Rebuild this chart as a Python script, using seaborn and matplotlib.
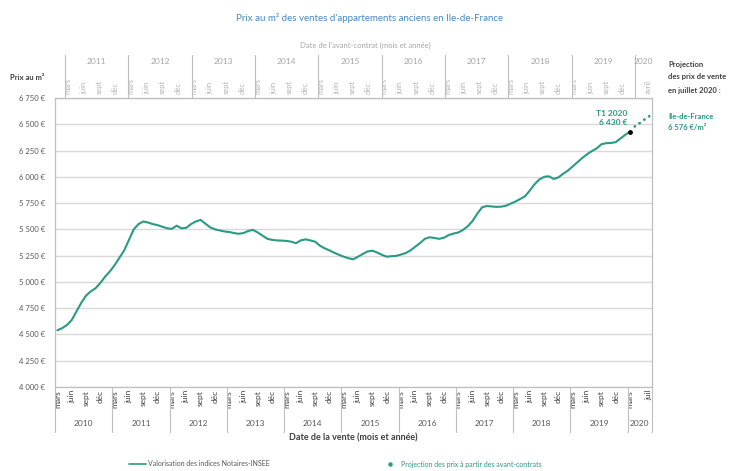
import numpy as np
import pandas as pd
import matplotlib
matplotlib.use("Agg")
import matplotlib.pyplot as plt
import seaborn as sns
from matplotlib.lines import Line2D
from matplotlib.transforms import blended_transform_factory as btf

# ---------------- data ----------------
sale_years = [2010, 2011, 2012, 2013, 2014, 2015, 2016, 2017, 2018, 2019, 2020]
sale_month_labels = ["mars", "juin", "sept", "déc"]
last_year_labels = ["mars", "juil"]
contract_years = [2011, 2012, 2013, 2014, 2015, 2016, 2017, 2018, 2019, 2020]
contract_month_labels = ["mars", "juin", "sept", "déc"]
contract_last_label = ["avril"]

# monthly price per m2, mars 2010 -> mars 2020 (Notaires-INSEE)
prices = [
    4540, 4560, 4590, 4637, 4720, 4800, 4870, 4910, 4940, 4990,   # 2010 mars-déc
    5050, 5100, 5160, 5230, 5300, 5400, 5500, 5550, 5575, 5565,
    5550, 5540, 5525, 5510, 5505, 5535, 5510, 5515, 5550, 5575,
    5590, 5555, 5520, 5500, 5490, 5480, 5475, 5465, 5458, 5465,
    5485, 5495, 5470, 5440, 5410, 5400, 5395, 5393, 5390, 5383,
    5368, 5395, 5405, 5395, 5383, 5345, 5320, 5300, 5278, 5258,
    5240, 5225, 5215, 5240, 5266, 5290, 5297, 5280, 5258, 5240,
    5245, 5248, 5260, 5275, 5300, 5335, 5370, 5410, 5425, 5418,
    5410, 5420, 5446, 5460, 5470, 5495, 5530, 5580, 5650, 5710,
    5722, 5718, 5714, 5716, 5725, 5745, 5765, 5790, 5815, 5870,
    5930, 5975, 6000, 6005, 5980, 5995, 6030, 6060, 6100, 6140,
    6180, 6215, 6245, 6270, 6310, 6320, 6322, 6330, 6365, 6400,
    6430,
]
# projection from avant-contrats, avril -> juillet 2020
proj_prices = [6480, 6510, 6545, 6576]

# ---------------- style ----------------
sns.set_theme(style="white")
plt.rcParams["font.family"] = ["Lato", "DejaVu Sans"]

TEAL = "#2A9A85"
GRID = "#d9d9d9"
AX = "#bfbfbf"
DARK = "#404040"
MID = "#595959"
LIGHT = "#a6a6a6"
BLUE = "#4a86c5"

W, H = 742, 471
fig = plt.figure(figsize=(W / 100, H / 100), dpi=100)
L, R, T, B = 55, 652, 98, 387
ax = fig.add_axes([L / W, 1 - B / H, (R - L) / W, (B - T) / H])

idx = np.arange(len(prices))
df = pd.DataFrame({"i": idx, "prix": prices})
pidx = np.arange(len(prices), len(prices) + len(proj_prices))
dfp = pd.DataFrame({"i": pidx, "prix": proj_prices})

sns.lineplot(data=df, x="i", y="prix", ax=ax, color=TEAL, lw=1.5, zorder=3)
sns.scatterplot(data=dfp, x="i", y="prix", ax=ax, color=TEAL, s=4,
                edgecolor="none", zorder=4)
ax.scatter([idx[-1]], [prices[-1]], s=6, color="black", zorder=5)

ax.set_xlim(-0.5, 124.6)
ax.set_ylim(4000, 6750)
yt = list(range(4000, 6751, 250))
ax.set_yticks(yt)
ax.set_yticklabels([f"{v:,} €".replace(",", " ") for v in yt], fontsize=5.5, color=MID)
ax.tick_params(axis="y", length=0, pad=7)
ax.yaxis.grid(True, color=GRID, lw=1.0)
ax.set_axisbelow(True)
for s in ["left", "bottom", "right", "top"]:
    ax.spines[s].set_color(AX)
    ax.spines[s].set_linewidth(0.9)
ax.set_xlabel("")
ax.set_ylabel("")

# bottom month ticks
pos, labs = [], []
for k, yr in enumerate(sale_years[:-1]):
    for j, m in enumerate(sale_month_labels):
        pos.append(12 * k + 3 * j)
        labs.append(m)
base = 12 * (len(sale_years) - 1)
pos += [base, base + 4]
labs += last_year_labels
ax.set_xticks(pos)
ax.set_xticklabels(labs, rotation=90, fontsize=6, color=DARK)
ax.tick_params(axis="x", length=0, pad=2)

tb = btf(ax.transData, ax.transAxes)
seps = [12 * k - 0.5 for k in range(len(sale_years))] + [124.6]
for s in seps:
    ax.plot([s, s], [0, -0.156], transform=tb, color=AX, lw=0.8, clip_on=False)
for k, yr in enumerate(sale_years):
    lo = seps[k]
    hi = seps[k + 1]
    ax.text((lo + hi) / 2, -0.125, str(yr), transform=tb, ha="center", va="center",
            fontsize=6, color=MID)
ax.text(0.5, -0.178, "Date de la vente (mois et année)", transform=ax.transAxes,
        ha="center", va="center", fontsize=6.5, fontweight="bold", color=DARK)

# top axis (avant-contrat dates)
ax2 = ax.twiny()
ax2.set_xlim(-2.4, 110.7)
tpos, tlabs = [], []
for k, yr in enumerate(contract_years[:-1]):
    for j, m in enumerate(contract_month_labels):
        tpos.append(12 * k + 3 * j)
        tlabs.append(m)
tbase = 12 * (len(contract_years) - 1)
tpos.append(tbase + 2)
tlabs += contract_last_label
ax2.set_xticks(tpos)
ax2.set_xticklabels(tlabs, rotation=90, fontsize=5.5, color="#b5b5b5")
ax2.tick_params(axis="x", length=0, pad=3)
for s in ax2.spines.values():
    s.set_visible(False)
tt = btf(ax2.transData, ax2.transAxes)
tseps = [12 * k - 0.5 for k in range(len(contract_years))]
for s in tseps:
    ax2.plot([s, s], [1.0, 1.149], transform=tt, color=AX, lw=0.8, clip_on=False)
tends = tseps + [110.7]
for k, yr in enumerate(contract_years):
    cx = (tends[k] + tends[k + 1]) / 2
    ax2.text(cx, 1.125, str(yr), transform=tt, ha="center", va="center",
             fontsize=6, color=LIGHT)

# texts
fig.text(370 / W, 1 - 18 / H, "Prix au m² des ventes d'appartements anciens en Ile-de-France",
         ha="center", va="center", fontsize=7, color=BLUE)
fig.text(365 / W, 1 - 45 / H, "Date de l'avant-contrat (mois et année)",
         ha="center", va="center", fontsize=5.5, color=LIGHT)
fig.text(10 / W, 1 - 78 / H, "Prix au m²", ha="left", va="center",
         fontsize=5.5, fontweight="bold", color=DARK)
fig.text(668 / W, 1 - 77 / H, "Projection\ndes prix de vente\nen juillet 2020 :",
         ha="left", va="center", fontsize=5.5, fontweight="bold", color=DARK,
         linespacing=2.0)
fig.text(668 / W, 1 - 122 / H, "Ile-de-France\n6 576 €/m²", ha="left", va="center",
         fontsize=5.5, fontweight="bold", color=TEAL, linespacing=1.6)
ax.text(idx[-1] - 0.5, prices[-1] + 55, "T1 2020\n6 430 €", ha="right", va="bottom",
        fontsize=6, fontweight="bold", color=TEAL, linespacing=1.3)

# legend
handles = [Line2D([0], [0], color=TEAL, lw=1.2),
           Line2D([0], [0], color=TEAL, marker="o", ms=2.2, lw=0)]
fig.legend(handles, ["Valorisation des indices Notaires-INSEE",
                     "Projection des prix à partir des avant-contrats"],
           loc="center", bbox_to_anchor=(335 / W, 1 - 464 / H), ncol=2,
           frameon=False, fontsize=5, labelcolor=[MID, TEAL],
           columnspacing=16, handlelength=2.5, handletextpad=0.3)

fig.savefig("out.png", dpi=100)
